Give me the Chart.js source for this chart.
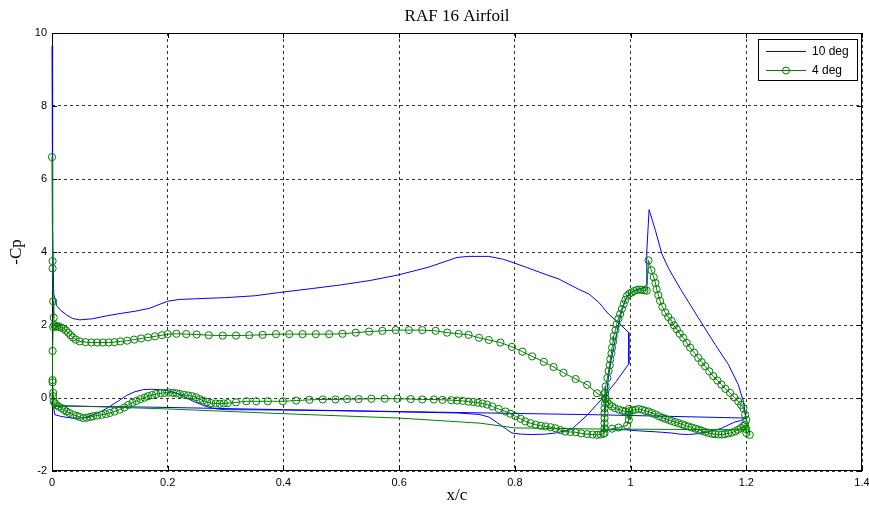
<!DOCTYPE html>
<html>
<head>
<meta charset="utf-8">
<script src="https://cdn.jsdelivr.net/npm/chart.js@4"></script>
<style>
  body { margin: 0; background: #fff; }
  canvas { display: block; }
</style>
</head>
<body>
<canvas id="cpChart" width="869" height="506"></canvas>
<script>
const xTicks = [0, 0.2, 0.4, 0.6, 0.8, 1, 1.2, 1.4];
const yTicks = [-2, 0, 2, 4, 6, 8, 10];

// 10 deg: main element upper side, LE -> TE
const deg10MainUpper = [[0.000,9.64],[0.001,4.75],[0.003,2.85],[0.008,2.53],[0.015,2.4],[0.025,2.28],[0.035,2.18],[0.048,2.14],[0.07,2.17],[0.094,2.25],[0.12,2.32],[0.145,2.38],[0.169,2.46],[0.185,2.56],[0.2,2.65],[0.22,2.7],[0.25,2.72],[0.3,2.75],[0.35,2.8],[0.393,2.89],[0.45,3.0],[0.5,3.1],[0.55,3.22],[0.598,3.37],[0.65,3.58],[0.7,3.85],[0.72,3.88],[0.755,3.88],[0.78,3.8],[0.795,3.72],[0.82,3.58],[0.847,3.42],[0.876,3.26],[0.893,3.12],[0.91,2.98],[0.928,2.85],[0.945,2.62],[0.962,2.3],[0.98,2.05],[0.997,1.79]];
// 10 deg: main element lower side, TE -> LE
const deg10MainLower = [[0.997,0.94],[0.975,0.45],[0.953,0.02],[0.925,-0.47],[0.898,-0.86],[0.87,-0.96],[0.853,-0.99],[0.83,-1.0],[0.81,-0.99],[0.795,-0.96],[0.785,-0.85],[0.77,-0.68],[0.755,-0.52],[0.738,-0.45],[0.7,-0.41],[0.6,-0.38],[0.5,-0.35],[0.4,-0.33],[0.301,-0.32],[0.285,-0.3],[0.272,-0.26],[0.258,-0.18],[0.244,-0.09],[0.23,0.03],[0.215,0.13],[0.2,0.2],[0.186,0.23],[0.17,0.24],[0.158,0.23],[0.143,0.17],[0.129,0.07],[0.115,-0.08],[0.1,-0.23],[0.085,-0.37],[0.071,-0.46],[0.06,-0.52],[0.048,-0.55],[0.035,-0.55],[0.025,-0.53],[0.015,-0.5],[0.005,-0.46],[0.003,-0.3]];
// 10 deg: straight run from main LE to flap TE
const deg10Link = [[0.005,-0.22],[0.17,-0.25],[0.4,-0.32],[0.945,-0.46],[1.2,-0.55]];
// 10 deg: flap lower side TE -> LE, then upper side LE -> TE
const deg10FlapLower = [[1.19,-0.62],[1.18,-0.66],[1.17,-0.73],[1.157,-0.83],[1.143,-0.89],[1.129,-0.94],[1.115,-0.98],[1.1,-1.0],[1.085,-0.99],[1.071,-0.96],[1.055,-0.94],[1.037,-0.92],[1.014,-0.9],[0.99,-0.87],[0.97,-0.87],[0.956,-0.88],[0.953,-0.9]];
const deg10FlapUpper = [[0.955,-0.5],[0.958,0.0],[0.962,0.6],[0.966,1.0],[0.971,1.38],[0.977,1.85],[0.985,2.4],[0.993,2.75],[1.002,2.9],[1.012,2.98],[1.02,3.0],[1.028,3.1],[1.028,4.0],[1.032,5.16],[1.043,4.59],[1.054,3.95],[1.066,3.54],[1.088,2.94],[1.117,2.2],[1.146,1.47],[1.169,0.92],[1.186,0.37],[1.195,-0.09],[1.198,-0.4],[1.2,-0.55]];

// 4 deg: main element upper side, LE -> TE
const deg4MainUpper = [[0.000,6.6],[0.001,3.75],[0.001,3.55],[0.002,2.65],[0.003,2.2],[0.004,2.0],[0.006,1.95],[0.009,1.97],[0.012,1.95],[0.016,1.93],[0.02,1.9],[0.024,1.85],[0.028,1.79],[0.032,1.72],[0.036,1.66],[0.041,1.6],[0.048,1.55],[0.058,1.53],[0.068,1.52],[0.078,1.52],[0.088,1.52],[0.098,1.52],[0.108,1.53],[0.118,1.55],[0.13,1.57],[0.142,1.6],[0.154,1.63],[0.166,1.66],[0.178,1.69],[0.19,1.72],[0.2,1.75],[0.215,1.76],[0.232,1.75],[0.25,1.74],[0.271,1.72],[0.295,1.71],[0.318,1.71],[0.341,1.72],[0.364,1.73],[0.387,1.75],[0.41,1.75],[0.433,1.75],[0.456,1.75],[0.479,1.75],[0.502,1.76],[0.525,1.79],[0.548,1.82],[0.571,1.84],[0.594,1.86],[0.617,1.86],[0.64,1.86],[0.663,1.84],[0.683,1.79],[0.703,1.76],[0.72,1.73],[0.738,1.65],[0.755,1.59],[0.775,1.52],[0.795,1.4],[0.813,1.27],[0.83,1.14],[0.85,0.99],[0.867,0.85],[0.884,0.69],[0.905,0.52],[0.925,0.36],[0.942,0.13],[0.956,0.0]];
// 4 deg: main element trailing edge points
const deg4MainTE = [[0.956,-0.14],[0.955,-0.28],[0.955,-0.41],[0.955,-0.55],[0.955,-0.69],[0.955,-0.83],[0.955,-0.96]];
// 4 deg: main element lower side, TE -> LE
const deg4MainLower = [[0.953,-0.98],[0.948,-1.0],[0.942,-1.01],[0.934,-1.0],[0.925,-0.99],[0.915,-0.97],[0.905,-0.94],[0.896,-0.93],[0.887,-0.92],[0.879,-0.88],[0.87,-0.83],[0.862,-0.8],[0.853,-0.78],[0.845,-0.76],[0.836,-0.73],[0.827,-0.69],[0.818,-0.64],[0.81,-0.57],[0.801,-0.5],[0.792,-0.43],[0.784,-0.37],[0.772,-0.3],[0.761,-0.23],[0.752,-0.18],[0.744,-0.15],[0.736,-0.13],[0.728,-0.11],[0.72,-0.1],[0.71,-0.08],[0.7,-0.07],[0.69,-0.06],[0.675,-0.05],[0.66,-0.04],[0.64,-0.04],[0.62,-0.03],[0.597,-0.02],[0.575,-0.02],[0.552,-0.02],[0.53,-0.03],[0.51,-0.03],[0.49,-0.04],[0.468,-0.04],[0.445,-0.05],[0.422,-0.07],[0.399,-0.09],[0.373,-0.09],[0.353,-0.09],[0.336,-0.09],[0.318,-0.12],[0.304,-0.14],[0.297,-0.15],[0.29,-0.16],[0.283,-0.15],[0.275,-0.14],[0.268,-0.11],[0.261,-0.07],[0.255,-0.03],[0.249,0.02],[0.242,0.05],[0.235,0.07],[0.228,0.09],[0.221,0.11],[0.215,0.13],[0.209,0.14],[0.202,0.15],[0.195,0.14],[0.188,0.13],[0.18,0.11],[0.173,0.08],[0.166,0.05],[0.16,0.01],[0.153,-0.03],[0.146,-0.08],[0.139,-0.13],[0.132,-0.19],[0.125,-0.26],[0.117,-0.32],[0.108,-0.37],[0.1,-0.41],[0.093,-0.44],[0.086,-0.46],[0.078,-0.48],[0.071,-0.5],[0.066,-0.52],[0.06,-0.54],[0.054,-0.55],[0.048,-0.52],[0.043,-0.49],[0.037,-0.46],[0.03,-0.41],[0.025,-0.37],[0.021,-0.33],[0.017,-0.28],[0.012,-0.24],[0.008,-0.2],[0.005,-0.15],[0.003,-0.09],[0.002,0.05],[0.002,0.14],[0.001,0.43],[0.001,0.49],[0.001,1.29],[0.002,1.95]];
// 4 deg: flap lower side LE -> TE
const deg4FlapLower = [[0.956,0.14],[0.957,-0.02],[0.959,-0.1],[0.963,-0.17],[0.968,-0.23],[0.973,-0.28],[0.98,-0.32],[0.986,-0.35],[0.991,-0.37],[0.998,-0.36],[1.003,-0.34],[1.008,-0.32],[1.014,-0.3],[1.02,-0.32],[1.025,-0.35],[1.031,-0.37],[1.037,-0.41],[1.043,-0.45],[1.049,-0.5],[1.055,-0.54],[1.06,-0.57],[1.066,-0.6],[1.071,-0.63],[1.077,-0.66],[1.083,-0.69],[1.089,-0.72],[1.094,-0.75],[1.1,-0.78],[1.106,-0.81],[1.112,-0.84],[1.118,-0.87],[1.123,-0.9],[1.129,-0.93],[1.135,-0.96],[1.141,-0.98],[1.146,-0.99],[1.152,-1.0],[1.158,-1.0],[1.163,-0.99],[1.169,-0.97],[1.175,-0.95],[1.181,-0.91],[1.186,-0.87],[1.191,-0.82],[1.195,-0.77],[1.198,-0.73],[1.2,-0.85],[1.2,-0.96],[1.206,-1.01],[1.2,-0.6]];
// 4 deg: flap upper side TE -> LE
const deg4FlapUpper = [[1.198,-0.46],[1.195,-0.28],[1.191,-0.19],[1.186,-0.09],[1.179,0.02],[1.172,0.14],[1.164,0.25],[1.157,0.37],[1.15,0.48],[1.143,0.6],[1.136,0.73],[1.129,0.87],[1.123,0.98],[1.117,1.1],[1.11,1.24],[1.103,1.38],[1.097,1.51],[1.091,1.65],[1.085,1.76],[1.08,1.88],[1.075,1.99],[1.071,2.11],[1.065,2.22],[1.06,2.34],[1.055,2.5],[1.051,2.66],[1.048,2.82],[1.045,2.98],[1.043,3.15],[1.04,3.31],[1.036,3.5],[1.031,3.77],[1.028,2.94],[1.024,2.95],[1.02,2.96],[1.016,2.97],[1.011,2.96],[1.006,2.93],[1.002,2.89],[0.998,2.86],[0.994,2.8],[0.991,2.69],[0.988,2.57],[0.985,2.44],[0.982,2.3],[0.979,2.17],[0.976,2.02],[0.974,1.86],[0.971,1.7],[0.97,1.55],[0.968,1.38],[0.967,1.22],[0.965,1.06],[0.964,0.9],[0.962,0.74],[0.96,0.55],[0.957,0.32],[0.956,0.14]];
// 4 deg: short run of points just aft of the flap nose
const deg4FlapNose = [[0.997,-0.3],[0.997,-0.46],[0.997,-0.6],[0.994,-0.75],[0.979,-0.81],[0.968,-0.84]];
// 4 deg: plain line from main LE to flap TE
const deg4Link = [[0.003,-0.2],[0.2,-0.3],[0.4,-0.43],[0.6,-0.55],[0.74,-0.69],[0.8,-0.82],[0.95,-0.85],[1.2,-0.87]];

const BLUE = "#0000ff";
const GREEN = "#008000";

// join pieces into one path; a null point lifts the pen
function path(...pieces) {
    const out = [];
    pieces.forEach((p, i) => {
        if (i > 0 && p.gap) out.push({ x: null, y: null });
        (p.pts || p).forEach(([x, y]) => out.push({ x, y }));
    });
    return out;
}
const gap = pts => ({ gap: true, pts });

const deg10Data = path(deg10MainUpper, deg10MainLower, deg10Link, deg10FlapLower, deg10FlapUpper);
const deg4Data = path(deg4MainUpper, deg4MainTE, deg4MainLower, gap(deg4FlapLower), deg4FlapUpper, gap(deg4FlapNose));
const deg4LinkData = path(deg4Link);

const tickFont = { family: "'Liberation Sans', Arial, sans-serif", size: 11 };
const labelFont = { family: "'Liberation Serif', 'Times New Roman', serif", size: 17 };

const framePlugin = {
    id: "frame",
    beforeDatasetsDraw(chart) {
        const { ctx, chartArea: a, scales } = chart;
        ctx.save();
        ctx.strokeStyle = "#000";
        ctx.lineWidth = 1;
        ctx.strokeRect(a.left + 0.5, a.top + 0.5, a.right - a.left - 1, a.bottom - a.top - 1);
        ctx.beginPath();
        xTicks.forEach(v => {
            const px = Math.round(scales.x.getPixelForValue(v)) + 0.5;
            ctx.moveTo(px, a.bottom); ctx.lineTo(px, a.bottom - 5);
            ctx.moveTo(px, a.top); ctx.lineTo(px, a.top + 5);
        });
        yTicks.forEach(v => {
            const py = Math.round(scales.y.getPixelForValue(v)) + 0.5;
            ctx.moveTo(a.left, py); ctx.lineTo(a.left + 5, py);
            ctx.moveTo(a.right, py); ctx.lineTo(a.right - 5, py);
        });
        ctx.stroke();
        // title over the plot area
        ctx.fillStyle = "#000";
        ctx.font = labelFont.size + "px " + labelFont.family;
        ctx.textAlign = "center";
        ctx.textBaseline = "middle";
        ctx.fillText("RAF 16 Airfoil", (a.left + a.right) / 2, 17);
        ctx.restore();
    },
    afterDatasetsDraw(chart) {
        const { ctx, chartArea: a } = chart;
        const w = 99, h = 41;
        const left = a.right - w - 5, top = a.top + 6;
        ctx.save();
        ctx.fillStyle = "#fff";
        ctx.fillRect(left, top, w, h);
        ctx.strokeStyle = "#000";
        ctx.lineWidth = 1;
        ctx.strokeRect(left + 0.5, top + 0.5, w, h);
        const rows = [
            { text: "10 deg", color: BLUE, marker: false, y: top + 12 },
            { text: "4 deg", color: GREEN, marker: true, y: top + 31 }
        ];
        ctx.font = "12px " + tickFont.family;
        ctx.textBaseline = "middle";
        ctx.textAlign = "left";
        rows.forEach(r => {
            ctx.strokeStyle = r.color;
            ctx.beginPath();
            ctx.moveTo(left + 8, r.y + 0.5);
            ctx.lineTo(left + 48, r.y + 0.5);
            ctx.stroke();
            if (r.marker) {
                ctx.beginPath();
                ctx.arc(left + 28, r.y + 0.5, 3.5, 0, Math.PI * 2);
                ctx.stroke();
            }
            ctx.fillStyle = "#000";
            ctx.fillText(r.text, left + 54, r.y + 1);
        });
        ctx.restore();
    }
};

const gridStyle = { color: "rgba(0,0,0,0.8)", lineWidth: 1, drawTicks: false };

new Chart(document.getElementById("cpChart"), {
    type: "scatter",
    data: {
        datasets: [
            {
                label: "4 deg", data: deg4Data, showLine: true, order: 0, clip: false,
                borderColor: GREEN, borderWidth: 1, tension: 0,
                pointStyle: "circle", pointRadius: 3.6, pointBorderWidth: 1,
                pointBorderColor: GREEN, pointBackgroundColor: "rgba(0,0,0,0)"
            },
            {
                label: "4 deg link", data: deg4LinkData, showLine: true, order: 1, clip: false,
                borderColor: GREEN, borderWidth: 1, pointRadius: 0
            },
            {
                label: "10 deg", data: deg10Data, showLine: true, order: 2, clip: false,
                borderColor: BLUE, borderWidth: 1, tension: 0, pointRadius: 0
            }
        ]
    },
    options: {
        responsive: false,
        animation: false,
        devicePixelRatio: 1,
        events: [],
        layout: { padding: { left: 0, right: 7, top: 33, bottom: 0 } },
        plugins: {
            legend: { display: false },
            tooltip: { enabled: false },
            title: { display: false }
        },
        scales: {
            x: {
                type: "linear", min: 0, max: 1.4,
                afterBuildTicks: s => { s.ticks = xTicks.map(v => ({ value: v })); },
                afterFit: s => { s.height = 35; s.paddingLeft = 0; s.paddingRight = 0; },
                ticks: { callback: v => String(v), color: "#000", font: tickFont, padding: 5, maxRotation: 0, autoSkip: false },
                grid: gridStyle,
                border: { display: false, dash: [3, 3] },
                title: { display: true, text: "x/c", color: "#000", font: labelFont, padding: { top: 0, bottom: 0 } }
            },
            y: {
                type: "linear", min: -2, max: 10,
                afterBuildTicks: s => { s.ticks = yTicks.map(v => ({ value: v })); },
                afterFit: s => { s.width = 52; s.paddingTop = 0; s.paddingBottom = 0; },
                ticks: { callback: v => String(v), color: "#000", font: tickFont, padding: 5, autoSkip: false },
                grid: gridStyle,
                border: { display: false, dash: [3, 3] },
                title: { display: true, text: "-Cp", color: "#000", font: labelFont, padding: { top: 6, bottom: 0 } }
            }
        }
    },
    plugins: [framePlugin]
});
</script>
</body>
</html>
